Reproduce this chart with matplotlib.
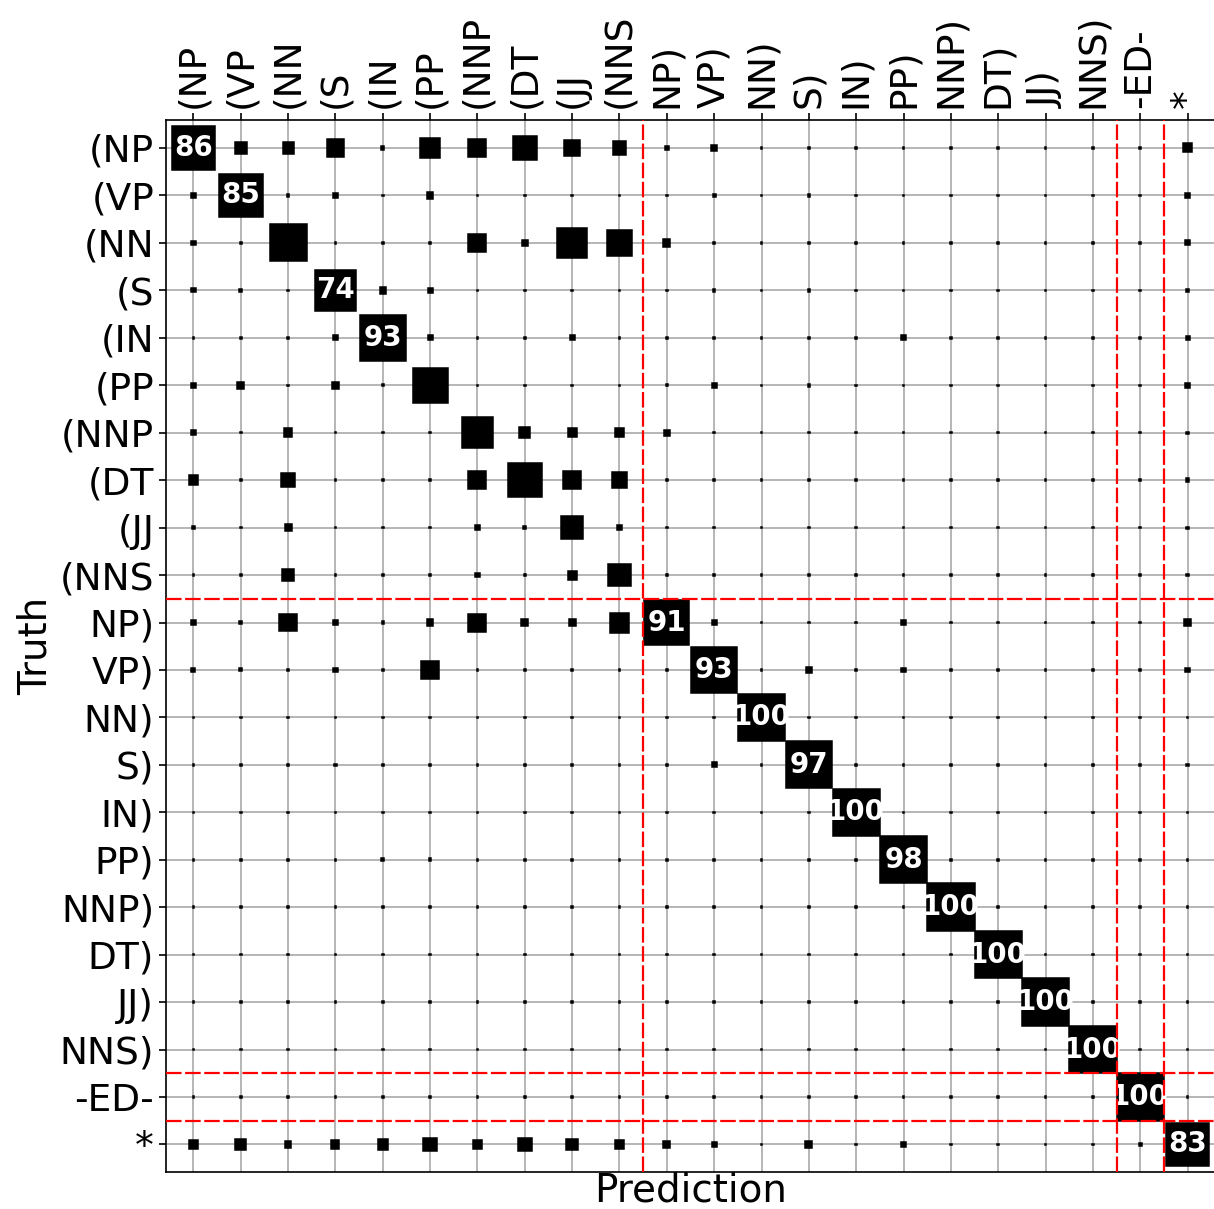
import numpy as np
import matplotlib
matplotlib.use('Agg')
import matplotlib.pyplot as plt
from matplotlib.patches import Rectangle

# Tag categories (truth rows / prediction columns)
labels = ['(NP', '(VP', '(NN', '(S', '(IN', '(PP', '(NNP', '(DT', '(JJ', '(NNS',
          'NP)', 'VP)', 'NN)', 'S)', 'IN)', 'PP)', 'NNP)', 'DT)', 'JJ)', 'NNS)',
          '-ED-', '*']

# Confusion weights (%)
weights = [
    [86, 6.4, 5.4, 13.3, 0.5, 17, 14.4, 25.6, 11, 8.4, 0.5, 1.9, 0.1, 0.3, 0.1, 0.1, 0.1, 0.1, 0.1, 0.1, 0.1, 3.6],
    [1.0, 85, 0.2, 1.2, 0.1, 1.8, 0.1, 0.1, 0.1, 0.1, 0.1, 0.4, 0.1, 0.2, 0.1, 0.1, 0.1, 0.1, 0.1, 0.1, 0.1, 0.8],
    [1.0, 0.2, 61, 0.1, 0.1, 0.1, 14.4, 1.8, 42, 29.4, 2.4, 0.1, 0.1, 0.1, 0.1, 0.1, 0.1, 0.1, 0.1, 0.1, 0.1, 1.1],
    [0.8, 0.3, 0.1, 74, 1.8, 1.0, 0.1, 0.1, 0.1, 0.1, 0.1, 0.3, 0.1, 0.3, 0.1, 0.1, 0.1, 0.1, 0.1, 0.1, 0.1, 0.5],
    [0.1, 0.1, 0.1, 1.0, 93, 1.0, 0.1, 0.1, 1.0, 0.1, 0.1, 0.1, 0.1, 0.1, 0.1, 1.1, 0.1, 0.1, 0.1, 0.1, 0.1, 0.7],
    [1.0, 2.4, 0.1, 2.2, 0.2, 55, 0.1, 0.1, 0.1, 0.1, 0.2, 1.2, 0.1, 0.3, 0.1, 0.1, 0.1, 0.1, 0.1, 0.1, 0.1, 1.2],
    [1.0, 0.1, 3.4, 0.1, 0.1, 0.1, 44, 5.7, 3.6, 3.6, 1.6, 0.1, 0.1, 0.1, 0.1, 0.1, 0.1, 0.1, 0.1, 0.1, 0.1, 0.2],
    [4.2, 0.1, 8.4, 0.1, 0.1, 0.1, 14.4, 51, 14.4, 11.2, 0.3, 0.1, 0.1, 0.1, 0.1, 0.1, 0.1, 0.1, 0.1, 0.1, 0.1, 0.5],
    [0.3, 0.1, 2.2, 0.1, 0.1, 0.1, 1.0, 0.5, 22, 1.0, 0.1, 0.1, 0.1, 0.1, 0.1, 0.1, 0.1, 0.1, 0.1, 0.1, 0.1, 0.2],
    [0.1, 0.1, 5.7, 0.1, 0.1, 0.1, 1.0, 0.3, 3.6, 22, 0.1, 0.1, 0.1, 0.1, 0.1, 0.1, 0.1, 0.1, 0.1, 0.1, 0.1, 0.2],
    [1.0, 0.4, 13.3, 1.0, 0.2, 1.8, 14.4, 2.2, 2.2, 17.8, 91, 1.0, 0.1, 0.1, 0.1, 1.0, 0.1, 0.1, 0.1, 0.1, 0.1, 2.2],
    [0.7, 0.4, 0.1, 1.0, 0.1, 14.4, 0.1, 0.1, 0.1, 0.1, 0.3, 93, 0.1, 1.7, 0.1, 0.8, 0.1, 0.1, 0.1, 0.1, 0.1, 0.8],
    [0.1, 0.1, 0.1, 0.1, 0.1, 0.1, 0.1, 0.1, 0.1, 0.1, 0.1, 0.1, 100, 0.1, 0.1, 0.1, 0.1, 0.1, 0.1, 0.1, 0.1, 0.1],
    [0.1, 0.1, 0.1, 0.3, 0.1, 0.3, 0.1, 0.1, 0.1, 0.1, 0.1, 1.0, 0.1, 97, 0.1, 0.1, 0.1, 0.1, 0.1, 0.1, 0.1, 0.3],
    [0.1, 0.1, 0.1, 0.1, 0.1, 0.1, 0.1, 0.1, 0.1, 0.1, 0.1, 0.1, 0.1, 0.1, 100, 0.1, 0.1, 0.1, 0.1, 0.1, 0.1, 0.1],
    [0.1, 0.1, 0.1, 0.1, 0.4, 0.3, 0.1, 0.1, 0.1, 0.1, 0.1, 0.1, 0.1, 0.1, 0.1, 98, 0.1, 0.1, 0.1, 0.1, 0.1, 0.1],
    [0.1, 0.1, 0.1, 0.1, 0.1, 0.1, 0.1, 0.1, 0.1, 0.1, 0.1, 0.1, 0.1, 0.1, 0.1, 0.1, 100, 0.1, 0.1, 0.1, 0.1, 0.1],
    [0.1, 0.1, 0.1, 0.1, 0.1, 0.1, 0.1, 0.1, 0.1, 0.1, 0.1, 0.1, 0.1, 0.1, 0.1, 0.1, 0.1, 100, 0.1, 0.1, 0.1, 0.1],
    [0.1, 0.1, 0.1, 0.1, 0.1, 0.1, 0.1, 0.1, 0.1, 0.1, 0.1, 0.1, 0.1, 0.1, 0.1, 0.1, 0.1, 0.1, 100, 0.1, 0.1, 0.1],
    [0.1, 0.1, 0.1, 0.1, 0.1, 0.1, 0.1, 0.1, 0.1, 0.1, 0.1, 0.1, 0.1, 0.1, 0.1, 0.1, 0.1, 0.1, 0.1, 100, 0.1, 0.1],
    [0.1, 0.1, 0.1, 0.1, 0.1, 0.1, 0.1, 0.1, 0.1, 0.1, 0.1, 0.1, 0.1, 0.1, 0.1, 0.1, 0.1, 0.1, 0.1, 0.1, 100, 0.1],
    [3.6, 5.8, 2.0, 2.9, 4.5, 8.0, 4.2, 8.1, 5.8, 3.9, 2.0, 1.0, 0.1, 2.0, 0.1, 1.0, 0.1, 0.1, 0.1, 0.1, 0.3, 83],
]

# block boundaries (between groups of tags)
boundaries = [9.5, 19.5, 20.5]
annot_min = 70

W = np.array(weights, dtype=float)
n = len(labels)

fig = plt.figure(figsize=(12.14, 12.09), dpi=100)
ax = fig.add_axes([166/1214, 37/1209, 1049/1214, 1052/1209])

for i in range(n):
    for j in range(n):
        s = np.sqrt(W[i, j] / 100.0)
        ax.add_patch(Rectangle((j - s/2, i - s/2), s, s, facecolor='black',
                               edgecolor='black', lw=1.1, zorder=3))
    if W[i, i] >= annot_min:
        ax.text(i, i, '%d' % W[i, i], color='white', fontsize=20, fontweight='bold',
                ha='center', va='center', zorder=4)

for b in boundaries:
    ax.axvline(b, color='red', ls=(0, (7, 1.6)), lw=1.6, zorder=5)
    ax.axhline(b, color='red', ls=(0, (7, 1.6)), lw=1.6, zorder=5)

ax.set_xlim(-0.58, 21.58)
ax.set_ylim(21.58, -0.59)
ax.set_xticks(range(n))
ax.set_yticks(range(n))
ax.set_xticklabels(labels, rotation=90, fontsize=27)
ax.set_yticklabels(labels, fontsize=27)
ax.xaxis.tick_top()
ax.tick_params(direction='out', length=5, width=1.2)
ax.set_axisbelow(True)
ax.grid(True, color='#b0b0b0', lw=1.3)
for sp in ax.spines.values():
    sp.set_linewidth(1.2)

ax.set_xlabel('Prediction', fontsize=28, labelpad=0)
ax.set_ylabel('Truth', fontsize=28)

fig.savefig('out.png', dpi=100)
